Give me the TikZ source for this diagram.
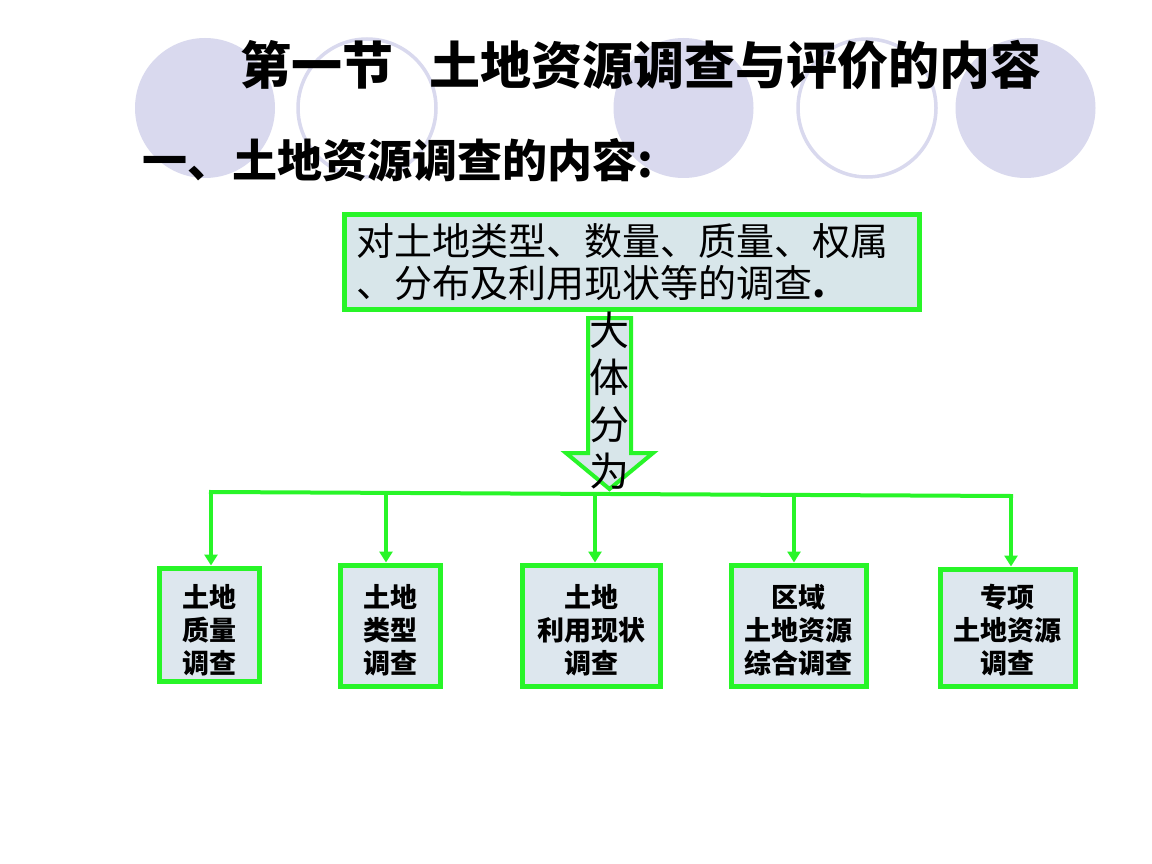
\documentclass[tikz,border=0pt]{standalone}
\usepackage{fontspec}
\newfontfamily\cjk{Noto Sans CJK SC}
\usetikzlibrary{arrows.meta}
\definecolor{lgreen}{RGB}{40,245,40}
\definecolor{lav}{RGB}{217,217,238}
\definecolor{boxfill}{RGB}{216,230,234}
\definecolor{boxfillb}{RGB}{221,231,238}
\begin{document}
\begin{tikzpicture}[x=1pt,y=-1pt,
  fcirc/.style={fill=lav,draw=none},
  ocirc/.style={draw=lav,line width=3.5pt},
  gbox/.style={draw=lgreen,line width=5pt,fill=boxfillb,inner sep=0pt},
  gtext/.style={inner sep=0pt,font=\cjk\bfseries\fontsize{27}{33}\selectfont,align=center},
  mbox/.style={draw=lgreen,line width=5pt,fill=boxfill,inner xsep=12pt,inner ysep=0pt,
    font=\cjk\fontsize{38}{42}\selectfont,align=left},
  conn/.style={draw=lgreen,line width=4pt},
  tipped/.style={-{Triangle[width=13pt,length=11pt]}},
  blockarrow/.style={draw=lgreen,line width=4pt,fill=boxfill,miter limit=10}]
\useasboundingbox (0,0) rectangle (1152,864);
\fill[white] (0,0) rectangle (1152,864);
% background circles
\path[fcirc] (205,108) circle (70pt);
\path[ocirc] (367,108) circle (69pt);
\path[fcirc] (683.5,108) circle (70pt);
\path[ocirc] (867,108) circle (69pt);
\path[fcirc] (1025.5,108) circle (70pt);
% titles
\node[anchor=west,inner sep=0pt,font=\cjk\bfseries\fontsize{51}{56}\selectfont] (title) at (240,65) {第一节\hspace{36pt}土地资源调查与评价的内容};
\node[anchor=west,inner sep=0pt,font=\cjk\bfseries\fontsize{45}{50}\selectfont] (sub) at (142,160) {一、土地资源调查的内容:};
% main box
\node[mbox,minimum width=575pt,minimum height=95pt,text width=551pt] (main) at (632,262) {对土地类型、数量、质量、权属\\、分布及利用现状等的调查\textbf{.}};
% block arrow
\draw[blockarrow] (588,318) -- (631,318) -- (631,453) -- (653,453) -- (609.5,489) -- (566,453) -- (588,453) -- cycle;
\node[inner sep=0pt,font=\cjk\fontsize{40}{47}\selectfont,align=center] (divide) at (609.5,401) {大\\体\\分\\为};
% bottom boxes
\node[gbox,minimum width=100pt,minimum height=113pt] (b1) at (209,624.5) {};
\node[gbox,minimum width=100pt,minimum height=121pt] (b2) at (390,625.5) {};
\node[gbox,minimum width=138pt,minimum height=121pt] (b3) at (591,625.5) {};
\node[gbox,minimum width=135pt,minimum height=121pt] (b4) at (798.5,625.5) {};
\node[gbox,minimum width=135pt,minimum height=117pt] (b5) at (1007.5,627.5) {};
\node[gtext] (t1) at (209,630) {土地\\质量\\调查};
\node[gtext] (t2) at (390,630) {土地\\类型\\调查};
\node[gtext] (t3) at (591,630) {土地\\利用现状\\调查};
\node[gtext] (t4) at (798.5,630) {区域\\土地资源\\综合调查};
\node[gtext] (t5) at (1007.5,630) {专项\\土地资源\\调查};
% bus and drops
\coordinate (bus1) at (211,492);
\coordinate (bus2) at (386,493);
\coordinate (bus3) at (595,494);
\coordinate (bus4) at (794,495);
\coordinate (bus5) at (1011,496);
\draw[conn,line cap=rect] (bus1) -- (bus5);
\draw[conn,tipped] (bus1) -- (bus1 |- b1.north);
\draw[conn,tipped] (bus2) -- (bus2 |- b2.north);
\draw[conn,tipped] (bus3) -- (bus3 |- b3.north);
\draw[conn,tipped] (bus4) -- (bus4 |- b4.north);
\draw[conn,tipped] (bus5) -- (bus5 |- b5.north);
\end{tikzpicture}
\end{document}
